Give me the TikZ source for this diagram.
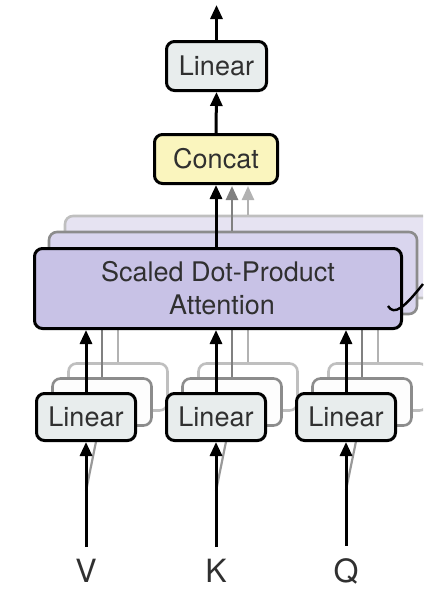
\documentclass[tikz,border=0pt]{standalone}
\usepackage{fontspec}
\setmainfont{TeX Gyre Heros}
\usetikzlibrary{arrows.meta,calc}
\definecolor{sdpafill}{HTML}{C8C2E6}
\definecolor{sdpafillb}{HTML}{D9D5EE}
\definecolor{sdpafillc}{HTML}{E6E3F2}
\definecolor{concatfill}{HTML}{FAF5BE}
\definecolor{linfill}{HTML}{E8EDED}
\definecolor{txt}{HTML}{303030}
\tikzset{
  box/.style={draw=black, line width=3pt, rounded corners=8pt, inner sep=0pt, text=txt, font=\fontsize{27}{31}\selectfont, align=center},
  backb/.style={draw=black!45, line width=2.6pt, rounded corners=8pt, inner sep=0pt},
  backc/.style={draw=black!25, line width=2.6pt, rounded corners=8pt, inner sep=0pt},
  linbox/.style={box, fill=linfill, minimum width=99pt, minimum height=47pt},
  linback/.style={backb, fill=white!90!linfill, minimum width=99pt, minimum height=47pt},
  linbackc/.style={backc, fill=white, minimum width=99pt, minimum height=47pt},
  arr/.style={line width=3pt, -{Triangle[length=14pt,width=12pt]}},
  garr/.style={arr, draw=black!50, fill=black!50, line width=2.6pt},
  larr/.style={arr, draw=black!30, fill=black!30, line width=2.4pt},
  inlabel/.style={text=txt, font=\fontsize{32}{36}\selectfont, inner sep=0pt}
}
\begin{document}
\begin{tikzpicture}[x=1pt,y=-1pt]
\useasboundingbox (0,0) rectangle (423,597);
\begin{scope}
\clip (0,0) rectangle (423,597);
% third layers
\node[backc, fill=sdpafillc, minimum width=368pt, minimum height=82pt] (s3) at (249,257) {};
\node[linbackc] (lv3) at (118,387) {};
\node[linbackc] (lk3) at (248,387) {};
\node[linbackc] (lq3) at (378,387) {};
\draw[larr] (lv3.north) -- (lv3.north |- s3.south);
\draw[larr] (lk3.north) -- (lk3.north |- s3.south);
\draw[larr] (lq3.north) -- (lq3.north |- s3.south);
% second layers
\node[backb, fill=sdpafillb, minimum width=368pt, minimum height=82pt] (s2) at (233,273) {};
\node[linback] (lv2) at (102,402) {};
\node[linback] (lk2) at (232,402) {};
\node[linback] (lq2) at (362,402) {};
\draw[garr] (lv2.north) -- (lv2.north |- s2.south);
\draw[garr] (lk2.north) -- (lk2.north |- s2.south);
\draw[garr] (lq2.north) -- (lq2.north |- s2.south);
\end{scope}
% input labels and branches to back layers (behind front boxes)
\node[inlabel] (v) at (86,571) {V};
\node[inlabel] (k) at (216,571) {K};
\node[inlabel] (q) at (346,571) {Q};
\foreach \a/\b in {v/lv2,k/lk2,q/lq2}{
  \draw[black!40, line width=2.2pt] ($(\a.north)+(0,-68)$) -- ([xshift=-3pt]\b.south);
}
% front
\node[box, fill=concatfill, minimum width=123pt, minimum height=49pt] (concat) at (216,159) {Concat};
\node[box, fill=linfill, minimum width=100pt, minimum height=49pt] (lout) at (216.5,66) {Linear};
\coordinate (top) at (216.5,5);
\coordinate (c3) at (248,186);
\coordinate (c2) at (232,186);
\draw[larr] (c3 |- s3.north) -- (c3);
\draw[garr] (c2 |- s2.north) -- (c2);
\node[box, fill=sdpafill, minimum width=367pt, minimum height=80pt] (sdpa) at (218,288.5) {Scaled Dot-Product\\[2pt]\hspace*{0.3em}Attention};
\node[linbox] (lv) at (86,417) {Linear};
\node[linbox] (lk) at (216,417) {Linear};
\node[linbox] (lq) at (346,417) {Linear};
\draw[arr] (v.north) ++(0,-12) -- (lv.south);
\draw[arr] (k.north) ++(0,-12) -- (lk.south);
\draw[arr] (q.north) ++(0,-12) -- (lq.south);
\draw[arr] (lv.north) -- (lv.north |- sdpa.south);
\draw[arr] (lk.north) -- (lk.north |- sdpa.south);
\draw[arr] (lq.north) -- (lq.north |- sdpa.south);
\draw[arr] (sdpa.north -| concat.south) -- (concat.south);
\draw[arr] (concat.north) -- (lout.south);
\draw[arr] (lout.north) -- (top);
% bracket fragment at right edge
\coordinate (h1) at (388,306);
\coordinate (h2) at (423,284);
\draw[black, line width=2.4pt] (h1) .. controls (394,316) and (404,308) .. (h2);
\end{tikzpicture}
\end{document}
